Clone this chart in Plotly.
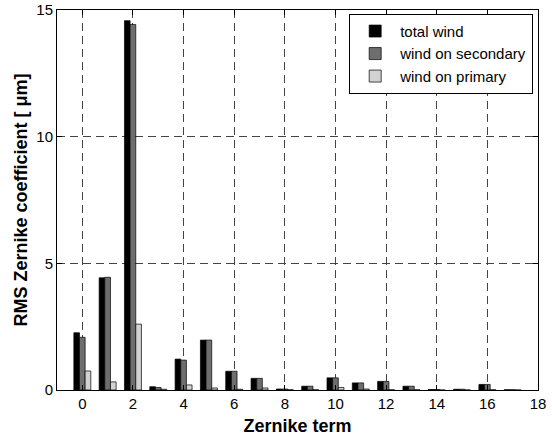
import plotly.graph_objects as go

terms = list(range(18))
total_wind = [2.26, 4.43, 14.58, 0.13, 1.22, 1.97, 0.74, 0.46, 0.04, 0.15, 0.48, 0.28, 0.34, 0.15, 0.02, 0.03, 0.22, 0.01]
wind_secondary = [2.08, 4.45, 14.43, 0.10, 1.18, 1.97, 0.74, 0.46, 0.04, 0.15, 0.48, 0.28, 0.34, 0.15, 0.02, 0.03, 0.22, 0.01]
wind_primary = [0.75, 0.32, 2.60, 0.03, 0.20, 0.08, 0.03, 0.08, 0.01, 0.01, 0.10, 0.04, 0.01, 0.01, 0.00, 0.00, 0.01, 0.00]

x_ticks = list(range(0, 19, 2))
y_ticks = [0, 5, 10, 15]

fig = go.Figure()
for name, vals, col in [("total wind", total_wind, "#000000"),
                        ("wind on secondary", wind_secondary, "#6e6e6e"),
                        ("wind on primary", wind_primary, "#d2d2d2")]:
    fig.add_trace(go.Bar(x=terms, y=vals, name=name, marker=dict(color=col, line=dict(color="#000000", width=0.7))))

FONT = "Liberation Sans, Arial, sans-serif"
axis_common = dict(showline=True, linecolor="black", linewidth=1, mirror="ticks",
                   ticks="inside", ticklen=5, tickcolor="black", automargin=False,
                   showgrid=True, gridcolor="#444444", griddash="8px,5px", gridwidth=1,
                   zeroline=False, tickfont=dict(family=FONT, size=15, color="black"))

fig.update_layout(
    width=552, height=437,
    margin=dict(l=57, r=14, t=10, b=47),
    paper_bgcolor="white", plot_bgcolor="white",
    barmode="group", bargap=0.33, bargroupgap=0,
    font=dict(family=FONT, color="black"),
    xaxis=dict(range=[-1, 18], tickvals=x_ticks,
               title=dict(text="<b>Zernike term</b>", font=dict(size=18), standoff=8), **axis_common),
    yaxis=dict(range=[0, 15], tickvals=y_ticks,
               title=dict(text="<b>RMS Zernike coefficient [ μm]</b>", font=dict(size=18), standoff=4), **axis_common),
    legend=dict(x=0.99, y=0.99, xanchor="right", yanchor="top",
                bgcolor="white", bordercolor="black", borderwidth=1,
                font=dict(size=15, family=FONT),
                tracegroupgap=0, itemwidth=40),
)

fig.write_html("out.html")
